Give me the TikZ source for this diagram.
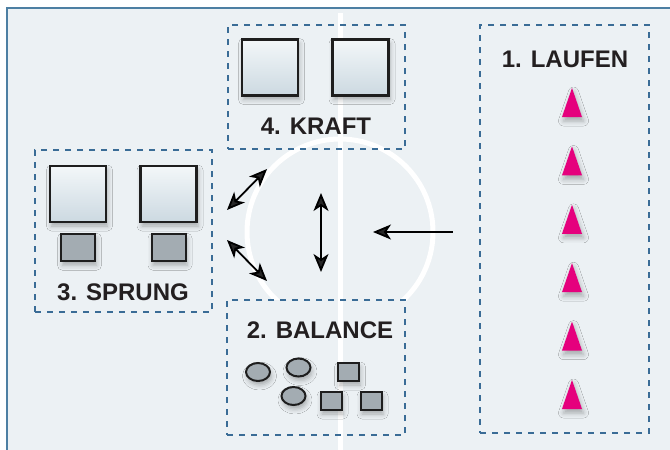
\documentclass[tikz,border=0pt]{standalone}
\usepackage{fontspec}
\setmainfont{Liberation Sans}
\usetikzlibrary{positioning,arrows.meta,shadows.blur,shapes.geometric}

\definecolor{bgcol}{HTML}{ECF1F4}
\definecolor{framecol}{HTML}{4D7FA3}
\definecolor{zonecol}{HTML}{3A6C96}
\definecolor{blocktop}{HTML}{F3F7F9}
\definecolor{blockbot}{HTML}{CCD9E1}
\definecolor{blockline}{HTML}{1E1E1E}
\definecolor{padcol}{HTML}{A3ACB2}
\definecolor{conecol}{HTML}{E5007D}
\definecolor{textcol}{HTML}{231F20}

\begin{document}
\begin{tikzpicture}[x=1pt, y=-1pt,
    court/.style={draw=white, line width=5pt},
    zone/.style={draw=zonecol, line width=2pt, dash pattern=on 6pt off 6pt, inner sep=0pt},
    soft/.style={blur shadow={shadow xshift=1.5pt, shadow yshift=-4pt, shadow blur radius=5pt, shadow opacity=30}},
    block/.style={soft, draw=blockline, line width=2.5pt, top color=blocktop, bottom color=blockbot, minimum size=56pt, inner sep=0pt},
    pad/.style={soft, draw=blockline, line width=2pt, fill=padcol, minimum width=34pt, minimum height=27pt, inner sep=0pt},
    plate/.style={soft, draw=blockline, line width=2pt, fill=padcol, minimum width=21pt, minimum height=18pt, inner sep=0pt},
    disc/.style={soft, ellipse, draw=blockline, line width=2pt, fill=padcol, minimum width=24pt, minimum height=18pt, inner sep=0pt},
    cone/.style={soft, fill=conecol},
    title/.style={font=\bfseries\fontsize{24}{28}\selectfont, text=textcol, inner sep=0pt},
    move/.style={line width=1.8pt, {Stealth[length=18pt,width=15pt,inset=5pt]}-{Stealth[length=18pt,width=15pt,inset=5pt]}}
]

\useasboundingbox[fill=white] (0,0) rectangle (670,450);
\clip (0,0) rectangle (670,450);
\draw[draw=framecol, fill=bgcol, line width=1.7pt] (7,8) rectangle (700,480);

\coordinate (mid) at (340,232);
\coordinate (linetop) at (340,13);
\coordinate (linebot) at (340,455);
\draw[court] (mid) circle[radius=93];
\fill[bgcol] (227,300) rectangle (405,435);
\draw[court] (linetop) -- (linebot);

\node[zone, minimum width=177pt, minimum height=124pt] (kraft) at (316.5,87) {};
\node[zone, minimum width=169pt, minimum height=408pt] (laufen) at (564.5,229) {};
\node[zone, minimum width=177pt, minimum height=162pt] (sprung) at (123.5,231) {};
\node[zone, minimum width=178pt, minimum height=135pt] (balance) at (316,367.5) {};

\node[block] (kraftA) at (270,67.5) {};
\node[block, right=32pt of kraftA] (kraftB) {};
\node[title] (kraftlbl) at (316,126.5) {4. KRAFT};

\node[title] (laufenlbl) at (565,59.5) {1. LAUFEN};
\foreach \k in {0,...,5}
    \fill[cone] (572,{88+58.4*\k}) -- ++(10,29) -- ++(-20,0) -- cycle;

\node[block] (sprungA) at (78,194) {};
\node[block, right=32pt of sprungA] (sprungB) {};
\node[pad, below=10pt of sprungA] (padA) {};
\node[pad, below=10pt of sprungB] (padB) {};
\node[title] (sprunglbl) at (123,292) {3. SPRUNG};

\node[title] (balancelbl) at (320,330.5) {2. BALANCE};
\node[disc] (discA) at (258,372) {};
\node[disc] (discB) at (298.5,367.5) {};
\node[disc] (discC) at (293.5,396) {};
\node[plate] (plateA) at (348.5,372) {};
\node[plate] (plateB) at (331,401) {};
\node[plate] (plateC) at (371,401) {};

\coordinate (upA) at (227,210);
\coordinate (upB) at (267,169);
\coordinate (lowA) at (227,240);
\coordinate (lowB) at (267,281);
\coordinate (vertA) at (321,193);
\coordinate (vertB) at (321,272);
\coordinate (runA) at (453,232);
\coordinate (runB) at (373,232);
\draw[move] (upA) -- (upB);
\draw[move] (lowA) -- (lowB);
\draw[move] (vertA) -- (vertB);
\draw[move, {Stealth[length=18pt,width=15pt,inset=5pt]}-] (runB) -- (runA);

\end{tikzpicture}
\end{document}
